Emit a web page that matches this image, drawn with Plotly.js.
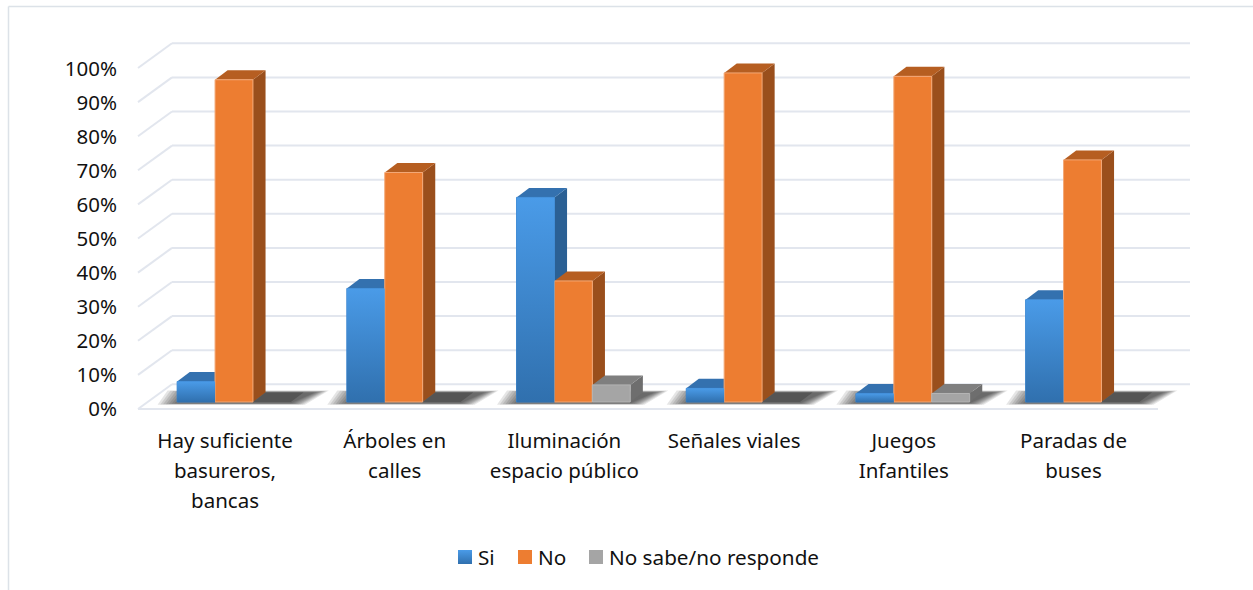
<!DOCTYPE html>
<html><head><meta charset="utf-8">
<script src="https://cdn.plot.ly/plotly-3.0.1.min.js"></script>
<style>html,body{margin:0;padding:0;background:#fff}#c{width:1253px;height:590px}</style>
</head><body><div id="c"></div>
<script>
const categories = ['Hay suficiente<br>basureros,<br>bancas','Árboles en<br>calles','Iluminación<br>espacio público','Señales viales','Juegos<br>Infantiles','Paradas de<br>buses'];
const si = [6, 33.3, 60, 4, 2.5, 30];
const no = [94.5, 67.3, 35.5, 96.5, 95.5, 71];
const nsnr = [0, 0, 5, 0, 2.5, 0];
const yTicks = [0,10,20,30,40,50,60,70,80,90,100];
const yTickLabels = ['0%','10%','20%','30%','40%','50%','60%','70%','80%','90%','100%'];

const W=1253,H=590,L=122,R=1200,T=30,B=420;
const catPx=169.7, x0Px=234, pxY=3.41, y0Px=402;
const xRange=[(L-x0Px)/catPx,(R-x0Px)/catPx];
const yRange=[(y0Px-B)/pxY,(y0Px-T)/pxY];
const X=p=>(p-x0Px)/catPx, Y=p=>(y0Px-p)/pxY;
const bw=0.67/3, dx=12.6/catPx, dy=9.5/pxY;
const F='"Noto Sans", "Open Sans", sans-serif', TXT='#111';
const shapes=[];
const poly=(pts,fill,op)=>shapes.push({type:'path',xref:'x',yref:'y',layer:'below',
  path:'M'+pts.map(p=>p[0]+','+p[1]).join('L')+'Z',fillcolor:fill,opacity:op===undefined?1:op,line:{width:0}});
const seg=(a,b,c,w)=>shapes.push({type:'line',xref:'x',yref:'y',layer:'below',x0:a[0],y0:a[1],x1:b[0],y1:b[1],line:{color:c,width:w}});
const GRID='#E2E6EE';
yTicks.forEach(v=>{
  const yb=Y(384.3)+v, yf=Y(409)+v;
  seg([X(138),yf],[X(172),yb],GRID,2);
  seg([X(172),yb],[X(1190),yb],GRID,2);
});
seg([X(138),Y(409)],[X(1158),Y(409)],GRID,2);
categories.forEach((_,i)=>{
  const l=i-0.335,r=i+0.335;
  for(let k=0;k<8;k++){
    const gl=(7-k)*2.8/catPx, gr=(7-k)*2/catPx, h=(7-k)*0.28;
    poly([[l-gl,-0.4-h*0.2],[r+gr,-0.4-h*0.2],[r+gr+24/catPx,dy+h*0.3],[l-gl+10/catPx,dy+h*0.3]],'#000',0.1);
  }
});
const faces=[{v:si,off:0,top:'#3471AF',side:'#2B6094'},{v:no,off:1,top:'#B65E21',side:'#9A4F1C'},{v:nsnr,off:2,top:'#7F7F7F',side:'#6E6E6E'}];
faces.forEach(s=>s.v.forEach((v,i)=>{
  const a=i-0.335+s.off*bw,b=a+bw;
  if(v>0) poly([[b,0],[b+dx,dy],[b+dx,v+dy],[b,v]],s.side);
  poly([[a,v],[b,v],[b+dx,v+dy],[a+dx,v+dy]],v>0?s.top:'#555555');
}));
const bar=(name,y,color,line)=>({type:'bar',name,x:categories.map((_,i)=>i),y,marker:{color,line:{color:line,width:y.map(v=>v>0?1:0)}},hoverinfo:'x+y+name'});
const traces=[bar('Si',si,'#3D86CF','#3D86CF'),bar('No',no,'#ED7D31','#F3A877'),bar('No sabe/no responde',nsnr,'#A5A5A5','#B5B5B5')];
si.forEach((v,i)=>{
  const a=i-0.335,b=a+bw;
  traces.push({type:'scatter',mode:'none',x:[a,b,b,a,a],y:[0,0,v,v,0],fill:'toself',showlegend:false,hoverinfo:'skip',
    fillgradient:{type:'vertical',start:v,stop:0,colorscale:[[0,'#4A9BE8'],[1,'#3070AE']]}});
});
traces.push({type:'scatter',mode:'none',x:[0],y:[0],yaxis:'y2',showlegend:false,hoverinfo:'skip'});
const dom=[(H-B)/(H-T),1];
const py=p=>(H-p)/(H-T), px=p=>(p-L)/(R-L);
const layout={
  width:W,height:H,paper_bgcolor:'#fff',plot_bgcolor:'rgba(0,0,0,0)',showlegend:true,
  margin:{l:L,r:W-R,t:T,b:0,pad:0},barmode:'group',bargap:0.33,bargroupgap:0,
  font:{family:F,color:TXT,size:20},
  xaxis:{type:'linear',range:xRange,showgrid:false,zeroline:false,showline:false,ticks:'',ticklabelstandoff:4,
    tickmode:'array',tickvals:categories.map((_,i)=>i-9/catPx),
    ticktext:categories.map(c=>'<span style="font-size:20.5px">'+c+'</span>'),tickfont:{family:F,size:23,color:TXT},tickangle:0},
  yaxis:{domain:dom,range:yRange,showgrid:false,zeroline:false,showline:false,showticklabels:false,ticks:''},
  yaxis2:{domain:dom,overlaying:'y',side:'left',range:[(409-B)/34*10,(409-T)/34*10],tickmode:'array',tickvals:yTicks,ticktext:yTickLabels,ticklabelstandoff:4,
    showgrid:false,zeroline:false,showline:false,ticks:'',tickfont:{family:F,size:20.5,color:TXT}},
  shapes:shapes.concat([
    {type:'line',xref:'paper',yref:'paper',x0:px(8.5),x1:px(W),y0:py(6.5),y1:py(6.5),line:{color:'#DCE2E8',width:1.5}},
    {type:'line',xref:'paper',yref:'paper',x0:px(8.5),x1:px(8.5),y0:py(6.5),y1:py(H),line:{color:'#DCE2E8',width:1.5}}
  ]),
  legend:{orientation:'h',x:px(450),xanchor:'left',y:py(543),yanchor:'top',font:{family:F,size:20.7,color:TXT},bgcolor:'rgba(0,0,0,0)',traceorder:'normal'},
};
Plotly.newPlot('c',traces,layout,{displayModeBar:false,staticPlot:true}).then(gd=>{
  const svg=gd.querySelector('.main-svg');
  const NS='http://www.w3.org/2000/svg';
  let defs=svg.querySelector('defs');
  const lg=document.createElementNS(NS,'linearGradient');
  lg.setAttribute('id','legendBlue');lg.setAttribute('x1','0');lg.setAttribute('y1','0');lg.setAttribute('x2','0');lg.setAttribute('y2','1');
  [['0','#4A9BE8'],['1','#3070AE']].forEach(s=>{const e=document.createElementNS(NS,'stop');e.setAttribute('offset',s[0]);e.setAttribute('stop-color',s[1]);lg.appendChild(e);});
  defs.appendChild(lg);
  const keyLeft=[458,518,589], keyMidY=557, textGap=6;
  gd.querySelectorAll('.legend .traces').forEach((g,i)=>{
    const sw=g.querySelector('.legendpoints path');
    sw.setAttribute('d','M7,7H-7V-7H7Z');
    if(i===0) sw.style.fill='url(#legendBlue)';
    sw.style.stroke='none';
    const m=/translate\(([-\d.]+)[ ,]*([-\d.]*)\)/.exec(g.getAttribute('transform'))||[0,0,0];
    const r=sw.getBoundingClientRect();
    g.setAttribute('transform','translate('+(+m[1]+keyLeft[i]-r.left)+','+(+(m[2]||0)+keyMidY-(r.top+r.height/2))+')');
    const t=g.querySelector('text.legendtext');
    const r2=sw.getBoundingClientRect(), tb=t.getBoundingClientRect();
    t.setAttribute('x',+t.getAttribute('x')-(tb.left-(r2.right+textGap)));
  });
  const clip=gd.querySelector('.legend .scrollbox');
  if(clip) clip.removeAttribute('clip-path');
});
</script></body></html>
